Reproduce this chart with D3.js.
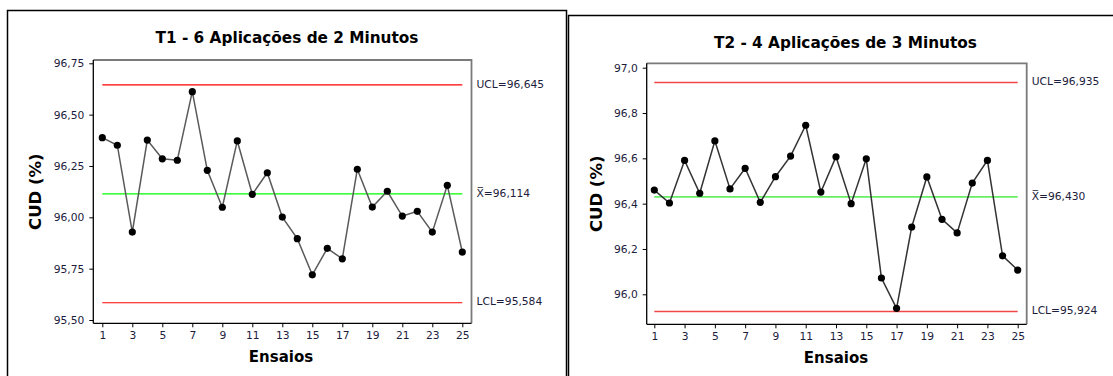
<!DOCTYPE html>
<html>
<head>
<meta charset="utf-8">
<script src="https://cdn.jsdelivr.net/npm/d3@7"></script>
<style>
  body { margin: 0; background: #fff; }
  svg { display: block; }
</style>
</head>
<body>
<svg id="chart" width="1113" height="376"></svg>
<script>
// Run numbers (Ensaios)
const ensaios = [1,2,3,4,5,6,7,8,9,10,11,12,13,14,15,16,17,18,19,20,21,22,23,24,25];
const xTickValues = [1,3,5,7,9,11,13,15,17,19,21,23,25];

// T1 - 6 applications of 2 minutes: CUD (%) per run
const t1Values = [96.388, 96.351, 95.928, 96.376, 96.285, 96.278, 96.612, 96.229, 96.049, 96.372,
                  96.112, 96.217, 96.001, 95.896, 95.720, 95.849, 95.798, 96.234, 96.050, 96.127,
                  96.006, 96.029, 95.928, 96.156, 95.831];
const t1Limits = [96.645, 96.114, 95.584];           // UCL, mean, LCL
const t1YTicks = [95.50, 95.75, 96.00, 96.25, 96.50, 96.75];

// T2 - 4 applications of 3 minutes: CUD (%) per run
const t2Values = [96.460, 96.403, 96.591, 96.446, 96.677, 96.465, 96.556, 96.406, 96.519, 96.610,
                  96.746, 96.451, 96.607, 96.400, 96.598, 96.072, 95.938, 96.297, 96.518, 96.331,
                  96.271, 96.491, 96.591, 96.170, 96.107];
const t2Limits = [96.935, 96.430, 95.924];
const t2YTicks = [96.0, 96.2, 96.4, 96.6, 96.8, 97.0];

const limitNames = ["UCL", "X\u0305", "LCL"];
const titles = ["T1 - 6 Aplicações de 2 Minutos", "T2 - 4 Aplicações de 3 Minutos"];

const svg = d3.select("#chart");
const FONT = "'DejaVu Sans', Verdana, sans-serif";

// Panel frames
svg.append("rect").attr("x", 7.5).attr("y", 10.5).attr("width", 559).attr("height", 420)
  .attr("fill", "none").attr("stroke", "#000").attr("stroke-width", 1.5);
svg.append("rect").attr("x", 568.5).attr("y", 15.5).attr("width", 600).attr("height", 420)
  .attr("fill", "none").attr("stroke", "#000").attr("stroke-width", 1.5);

function drawChart(cfg) {
  const g = svg.append("g");
  const x = d3.scaleLinear().domain([1, 25]).range(cfg.xRange);
  const y = d3.scaleLinear().domain(cfg.yDomain).range(cfg.yRange);
  const [fl, fr, ft, fb] = cfg.frame;

  // Title
  g.append("text").attr("x", cfg.titleX).attr("y", cfg.titleY)
    .attr("text-anchor", "middle").attr("font-family", FONT)
    .attr("font-weight", "bold").attr("font-size", "15.3px").attr("fill", "#000")
    .text(cfg.title);

  // Top / right frame (grey)
  g.append("path")
    .attr("d", `M${fl},${ft}H${fr}V${fb}`)
    .attr("fill", "none").attr("stroke", "#7a7a7a").attr("stroke-width", 1.8);

  // Y axis
  const yAxis = d3.axisLeft(y).tickValues(cfg.yTicks).tickSize(4).tickPadding(5)
    .tickFormat(d => d.toFixed(cfg.decimals).replace(".", ","));
  const ya = g.append("g").attr("transform", `translate(${fl},0)`).call(yAxis);
  ya.select(".domain").attr("d", `M0,${ft}V${fb}`).attr("stroke", "#000").attr("stroke-width", 1.3);

  // X axis
  const xAxis = d3.axisBottom(x).tickValues(xTickValues).tickSize(4).tickPadding(4)
    .tickFormat(d3.format("d"));
  const xa = g.append("g").attr("transform", `translate(0,${fb})`).call(xAxis);
  xa.select(".domain").attr("d", `M${fl},0H${fr}`).attr("stroke", "#000").attr("stroke-width", 1.3);

  [ya, xa].forEach(a => {
    a.selectAll("text").attr("font-family", FONT).attr("font-size", "10.7px").attr("fill", "#1c1c3c");
    a.selectAll(".tick line").attr("stroke", "#000");
  });

  // Axis titles
  g.append("text").attr("x", cfg.xLabelX).attr("y", cfg.xLabelY)
    .attr("text-anchor", "middle").attr("font-family", FONT)
    .attr("font-weight", "bold").attr("font-size", "15px").text("Ensaios");
  g.append("text")
    .attr("transform", `translate(${cfg.yLabelX},${(ft + fb) / 2}) rotate(-90)`)
    .attr("text-anchor", "middle").attr("dy", "0.36em").attr("font-family", FONT)
    .attr("font-weight", "bold").attr("font-size", "16.5px").text("CUD (%)");

  // Control limits and centre line
  const limitColors = [cfg.red, cfg.green, cfg.red];
  cfg.limits.forEach((v, i) => {
    g.append("line")
      .attr("x1", x(ensaios[0])).attr("x2", x(ensaios[ensaios.length - 1]))
      .attr("y1", y(v)).attr("y2", y(v))
      .attr("stroke", limitColors[i]).attr("stroke-width", cfg.limitWidth);
    g.append("text")
      .attr("x", fr + 5).attr("y", y(v) - 1).attr("dy", "0.35em")
      .attr("font-family", FONT).attr("font-size", "10.7px").attr("fill", "#1c1c3c")
      .text(`${limitNames[i]}=${v.toFixed(3).replace(".", ",")}`);
  });

  // Individual values
  const line = d3.line().x((d, i) => x(ensaios[i])).y(d => y(d));
  g.append("path").datum(cfg.values).attr("d", line)
    .attr("fill", "none").attr("stroke", cfg.lineColor).attr("stroke-width", 1.5);
  g.selectAll("circle.pt").data(cfg.values).enter().append("circle")
    .attr("class", "pt")
    .attr("cx", (d, i) => x(ensaios[i])).attr("cy", d => y(d))
    .attr("r", 3.6).attr("fill", "#000");
}

drawChart({
  title: titles[0], titleX: 287, titleY: 43.3,
  values: t1Values, limits: t1Limits, yTicks: t1YTicks, decimals: 2,
  xRange: [102.3, 462.3], yDomain: [95.5, 96.75], yRange: [320, 63.3],
  frame: [93.3, 471.5, 60, 323.3],
  xLabelX: 281, xLabelY: 361.5, yLabelX: 35.5,
  red: "#ff0000", green: "#00ff00", limitWidth: 1.2, lineColor: "#5a5a5a"
});

drawChart({
  title: titles[1], titleX: 845.5, titleY: 47.7,
  values: t2Values, limits: t2Limits, yTicks: t2YTicks, decimals: 1,
  xRange: [654.3, 1017.7], yDomain: [96.0, 97.0], yRange: [294.3, 67.7],
  frame: [646.7, 1026.7, 63.3, 324.3],
  xLabelX: 836, xLabelY: 362.5, yLabelX: 596.5,
  red: "#f04848", green: "#66ee66", limitWidth: 1.6, lineColor: "#333"
});
</script>
</body>
</html>
